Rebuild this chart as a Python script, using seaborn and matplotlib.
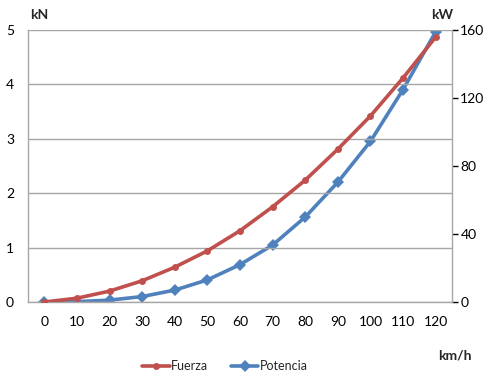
import matplotlib
matplotlib.use("Agg")
import matplotlib.pyplot as plt
import seaborn as sns
import pandas as pd
from matplotlib.lines import Line2D

speed = [0, 10, 20, 30, 40, 50, 60, 70, 80, 90, 100, 110, 120]
fuerza = [0.0, 0.07, 0.2, 0.39, 0.64, 0.94, 1.31, 1.75, 2.24, 2.81, 3.42, 4.12, 4.87]
potencia = [0.0, 0.2, 1.1, 3.2, 7.0, 13.0, 22.0, 33.5, 50.0, 70.5, 94.5, 125.0, 159.0]
left_ticks = [0, 1, 2, 3, 4, 5]
right_ticks = [0, 40, 80, 120, 160]

sns.set_theme(style="white")
plt.rcParams['font.family'] = ['Lato', 'DejaVu Sans']

red = "#C0504D"
blue = "#4F81BD"
grey = "#A6A6A6"

df = pd.DataFrame({"speed": speed, "Fuerza": fuerza, "Potencia": potencia})

fig = plt.figure(figsize=(4.84, 3.76), dpi=100)
ax = fig.add_axes([28/484, 1-302/376, 424/484, 272/376])
ax2 = ax.twinx()

sns.lineplot(data=df, x="speed", y="Fuerza", ax=ax, color=red, lw=2.6,
             marker="o", markersize=5, markeredgewidth=0, zorder=3)
sns.lineplot(data=df, x="speed", y="Potencia", ax=ax2, color=blue, lw=2.6,
             marker="D", markersize=6, markeredgewidth=0, zorder=3)

ax.set_xlim(-5, 125)
ax.set_ylim(0, 5)
ax2.set_ylim(0, 160)
ax.set_xticks(speed)
ax.set_xticklabels([str(s) for s in speed])
ax.set_yticks(left_ticks)
ax2.set_yticks(right_ticks)
ax.set_xlabel("")
ax.set_ylabel("")
ax2.set_ylabel("")

ax.grid(axis="y", color=grey, lw=1)
ax.set_axisbelow(True)
ax.tick_params(axis="x", length=0, pad=10, labelsize=10, colors="black")
ax.tick_params(axis="y", length=0, pad=10, labelsize=10, colors="black")
ax2.tick_params(axis="y", length=4, width=1, pad=2, labelsize=10, colors="black")
for t in ax2.yaxis.get_major_ticks():
    t.tick2line.set_color(grey)

for a in (ax, ax2):
    a.spines["top"].set_visible(False)
    for s in ("left", "right", "bottom"):
        a.spines[s].set_color(grey)
        a.spines[s].set_linewidth(1)
ax.spines["right"].set_visible(False)
ax2.spines["left"].set_visible(False)
ax2.spines["bottom"].set_visible(False)
ax.set_zorder(ax2.get_zorder() + 1)
ax.patch.set_visible(False)

fig.text(30/484, 1-15/376, "kN", fontsize=10, fontweight="bold", ha="left", va="center")
fig.text(442/484, 1-15/376, "kW", fontsize=10, fontweight="bold", ha="center", va="center")
fig.text(455/484, 1-355/376, "km/h", fontsize=10, fontweight="bold", ha="center", va="center")

handles = [Line2D([], [], color=red, lw=2.6, marker="o", markersize=5, markeredgewidth=0),
           Line2D([], [], color=blue, lw=2.6, marker="D", markersize=6, markeredgewidth=0)]
fig.legend(handles, ["Fuerza", "Potencia"], loc="center", bbox_to_anchor=(0.465, 1-366/376),
           ncol=2, frameon=False, fontsize=9, handlelength=2.2, handletextpad=0.1,
           columnspacing=1.8)

fig.savefig("out.png", dpi=100)
